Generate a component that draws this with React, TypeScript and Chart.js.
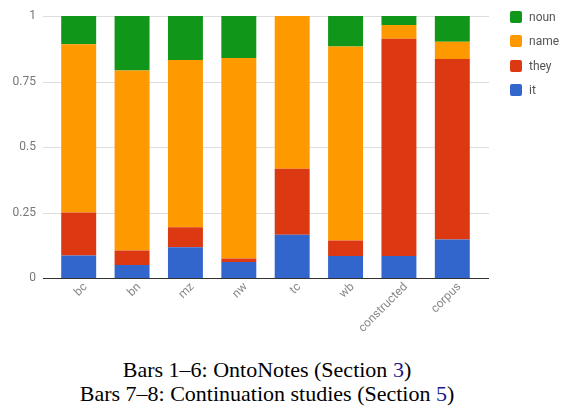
import React, { useEffect, useRef } from "react";
import { Chart, registerables } from "chart.js";

Chart.register(...registerables);

const categories = ["bc", "bn", "mz", "nw", "tc", "wb", "constructed", "corpus"];
const itValues = [0.086, 0.05, 0.117, 0.061, 0.165, 0.084, 0.084, 0.147];
const theyValues = [0.164, 0.055, 0.077, 0.013, 0.252, 0.059, 0.829, 0.689];
const nameValues = [0.642, 0.687, 0.638, 0.766, 0.583, 0.741, 0.053, 0.066];
const nounValues = [0.108, 0.208, 0.168, 0.16, 0.0, 0.116, 0.034, 0.098];
const yTicks = [0, 0.25, 0.5, 0.75, 1];

const series = [
  { label: "it", data: itValues, color: "#3366CC" },
  { label: "they", data: theyValues, color: "#DC3912" },
  { label: "name", data: nameValues, color: "#FF9900" },
  { label: "noun", data: nounValues, color: "#109618" },
];

const gridPlugin = {
  id: "extGrid",
  beforeDatasetsDraw(chart: any) {
    const { ctx, chartArea, scales } = chart;
    const y = scales.y;
    ctx.save();
    yTicks.forEach((t) => {
      const py = Math.round(y.getPixelForValue(t)) + 0.5;
      ctx.beginPath();
      ctx.strokeStyle = t === 0 ? "#333333" : "#dddddd";
      ctx.lineWidth = 1;
      ctx.moveTo(chartArea.left - 9, py);
      ctx.lineTo(chartArea.right + 10, py);
      ctx.stroke();
    });
    ctx.restore();
  },
  afterDatasetsDraw(chart: any) {
    const { ctx, chartArea, scales } = chart;
    const py = Math.round(scales.y.getPixelForValue(0)) + 0.5;
    ctx.save();
    ctx.beginPath();
    ctx.strokeStyle = "#333333";
    ctx.lineWidth = 1;
    ctx.moveTo(chartArea.left - 9, py);
    ctx.lineTo(chartArea.right + 10, py);
    ctx.stroke();
    ctx.restore();
  },
};

export default function App() {
  const ref = useRef<HTMLCanvasElement | null>(null);

  useEffect(() => {
    if (!ref.current) return;
    const chart = new Chart(ref.current, {
      type: "bar",
      data: {
        labels: categories,
        datasets: series.map((s) => ({
          label: s.label,
          data: s.data,
          backgroundColor: s.color,
          borderWidth: 0,
          barPercentage: 0.655,
          categoryPercentage: 1,
        })),
      },
      options: {
        animation: false,
        responsive: false,
        maintainAspectRatio: false,
        layout: { padding: { top: 16, right: 82, bottom: 0, left: 0 } },
        plugins: { legend: { display: false }, tooltip: { enabled: false } },
        scales: {
          x: {
            stacked: true,
            grid: { display: false, drawTicks: false },
            border: { display: false },
            ticks: {
              minRotation: 45,
              maxRotation: 45,
              padding: 2,
              labelOffset: 7,
              color: "#8a8a8a",
              font: { family: "Roboto", size: 12 },
            },
            afterFit: (s: any) => {
              s.height = 67;
            },
          },
          y: {
            stacked: true,
            min: 0,
            max: 1,
            afterBuildTicks: (s: any) => {
              s.ticks = yTicks.map((v) => ({ value: v }));
            },
            grid: { display: false, drawTicks: true, tickLength: 16 },
            border: { display: false },
            ticks: {
              padding: 0,
              color: "#777777",
              font: { family: "Roboto", size: 12 },
              callback: (v: any) => String(v),
            },
            afterFit: (s: any) => {
              s.width = 52;
            },
          },
        },
      },
      plugins: [gridPlugin],
    });
    return () => chart.destroy();
  }, []);

  const legendItems = [...series].reverse();

  return (
    <div
      style={{
        position: "absolute",
        left: 0,
        top: 0,
        width: 561,
        height: 408,
        background: "#fff",
        overflow: "hidden",
      }}
    >
      <canvas ref={ref} width={561} height={345} style={{ position: "absolute", left: 0, top: 0 }} />
      {legendItems.map((s, i) => (
        <div
          key={s.label}
          style={{
            position: "absolute",
            left: 510,
            top: 10 + i * 24.6,
            height: 13,
            display: "flex",
            alignItems: "center",
            fontFamily: "Roboto",
            fontSize: 12,
            color: "#555",
            whiteSpace: "nowrap",
          }}
        >
          <div
            style={{
              width: 12,
              height: 12,
              background: s.color,
              borderRadius: 2,
              marginRight: 7,
            }}
          />
          {s.label}
        </div>
      ))}
      <div
        style={{
          position: "absolute",
          left: 0,
          top: 358,
          width: 534,
          textAlign: "center",
          fontFamily: "'Liberation Serif', 'Times New Roman', serif",
          fontSize: 22,
          lineHeight: "24px",
          color: "#000",
        }}
      >
        <div>
          Bars 1–6: OntoNotes (Section <span style={{ color: "#1a1a8c" }}>3</span>)
        </div>
        <div>
          Bars 7–8: Continuation studies (Section <span style={{ color: "#1a1a8c" }}>5</span>)
        </div>
      </div>
    </div>
  );
}
